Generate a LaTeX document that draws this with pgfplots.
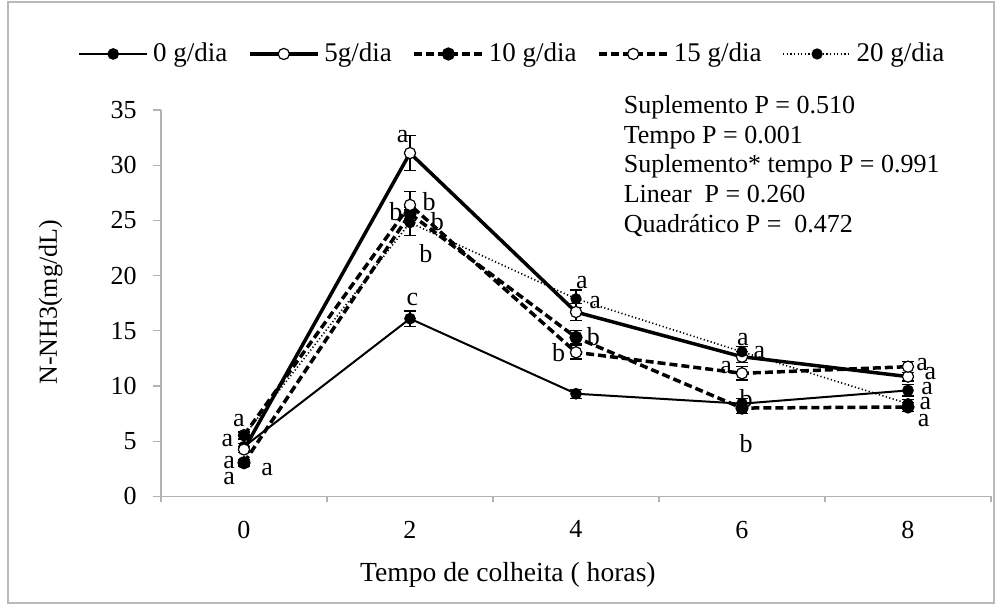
\documentclass[border=0pt]{standalone}
\usepackage{fontspec}
\setmainfont{Liberation Serif}
\usepackage{pgfplots}
\pgfplotsset{compat=1.18}
\begin{document}
\begin{tikzpicture}
\path[use as bounding box] (0pt,0pt) rectangle (499pt,303pt);
\draw[gray!55, line width=0.6pt] (4pt,1.5pt) rectangle (497pt,302pt);
\begin{axis}[
  at={(80.5pt,54.8pt)}, anchor=south west,
  scale only axis, width=415pt, height=193.2pt,
  xmin=-1, xmax=9, ymin=0, ymax=35,
  axis x line=bottom, axis y line=left,
  axis line style={-, draw=gray!60, line width=0.6pt},
  xtick={0,2,4,6,8}, minor xtick={-1,1,3,5,7,9},
  ytick={0,5,...,35},
  tick align=outside,
  major tick length=4pt, minor tick length=3pt,
  tick style={draw=gray!60, line width=0.6pt},
  every major x tick/.style={draw=none},
  /pgf/number format/assume math mode=true,
  ticklabel style={font=\fontsize{13}{15}\selectfont, inner sep=0pt},
  yticklabel style={anchor=east, xshift=-8pt},
  xticklabel style={anchor=north, yshift=-8pt},
  xlabel={Tempo de colheita ( horas)},
  xlabel style={at={(axis description cs:0.418,-0.2215)}, anchor=base, font=\fontsize{13.8}{16}\selectfont},
  ylabel={N-NH3(mg/dL)},
  ylabel style={at={(axis description cs:-0.1253,0.502)}, anchor=base, font=\fontsize{13}{15}\selectfont},
  legend columns=5,
  legend style={at={(axis description cs:0.425,1.145)}, anchor=center, draw=none, fill=none,
    font=\fontsize{13.5}{16}\selectfont, nodes={inner sep=2.4pt},
    /tikz/every even column/.append style={column sep=8pt}},
  legend image code/.code={\draw[mark repeat=2, mark phase=2, #1] plot coordinates {(0pt,0pt) (17pt,0pt) (34pt,0pt)};},
  error bars/y dir=both, error bars/y explicit,
  error bars/error bar style={black, solid, line width=0.6pt},
  error bars/error mark options={rotate=90, mark size=3pt, black, solid, line width=0.6pt},
]
\addplot[black, solid, line width=1pt, mark=*, mark size=2.4pt, mark options={solid}]
  coordinates {(0,4.5) +- (0,0.3) (2,16.1) +- (0,0.7) (4,9.3) +- (0,0.4) (6,8.4) +- (0,0.5) (8,9.6) +- (0,0.5)};
\addplot[black, solid, line width=1.75pt, mark=*, mark size=2.8pt, mark options={solid, fill=white, line width=0.6pt}]
  coordinates {(0,4.25) +- (0,0.3) (2,31.1) +- (0,1.6) (4,16.7) +- (0,0.8) (6,12.65) +- (0,0.5) (8,10.85) +- (0,0.4)};
\addplot[black, line width=1.75pt, dash pattern=on 4pt off 2pt, mark=*, mark size=2.4pt, mark options={solid}]
  coordinates {(0,3.05) +- (0,0.3) (2,25.6) +- (0,0.6) (4,14.4) +- (0,0.6) (6,8.0) +- (0,0.5) (8,8.1) +- (0,0.4)};
\addplot[black, line width=1.75pt, dash pattern=on 4pt off 2pt, mark=*, mark size=2.8pt, mark options={solid, fill=white, line width=0.6pt}]
  coordinates {(0,5.55) +- (0,0.3) (2,26.4) +- (0,1.2) (4,13.05) +- (0,0.6) (6,11.15) +- (0,0.6) (8,11.75) +- (0,0.5)};
\addplot[black, line width=0.8pt, dash pattern=on 0.6pt off 1.2pt, mark=*, mark size=2.4pt, mark options={solid}]
  coordinates {(0,5.5) +- (0,0.3) (2,24.8) +- (0,1.2) (4,17.9) +- (0,0.8) (6,13.1) +- (0,0.5) (8,8.4) +- (0,0.4)};
\legend{0 g/dia, 5g/dia, 10 g/dia, 15 g/dia, 20 g/dia}
% letras de significancia
\begin{scope}[every node/.style={font=\fontsize{13}{15}\selectfont, inner sep=0pt}]
\node at (axis cs:-0.06,6.9) {a};
\node at (axis cs:-0.2,5.1) {a};
\node at (axis cs:-0.18,3.1) {a};
\node at (axis cs:-0.18,1.6) {a};
\node at (axis cs:0.28,2.4) {a};
\node at (axis cs:1.91,32.6) {a};
\node at (axis cs:2.23,26.7) {b};
\node at (axis cs:1.83,25.8) {b};
\node at (axis cs:2.33,24.9) {b};
\node at (axis cs:2.19,22.0) {b};
\node at (axis cs:2.03,17.8) {c};
\node at (axis cs:4.07,19.4) {a};
\node at (axis cs:4.23,17.6) {a};
\node at (axis cs:4.21,14.5) {b};
\node at (axis cs:3.79,13.0) {b};
\node at (axis cs:6.01,14.2) {a};
\node at (axis cs:6.21,13.0) {a};
\node at (axis cs:5.81,11.7) {a};
\node at (axis cs:6.05,8.9) {b};
\node at (axis cs:6.05,4.8) {b};
\node at (axis cs:8.17,11.9) {a};
\node at (axis cs:8.27,11.15) {a};
\node at (axis cs:8.23,9.8) {a};
\node at (axis cs:8.21,8.4) {a};
\node at (axis cs:8.19,6.9) {a};
\end{scope}
\end{axis}
\begin{scope}[every node/.style={anchor=base west, inner sep=0pt, font=\fontsize{13}{15}\selectfont}]
\node at (311.7pt,246pt) {Suplemento P = 0.510};
\node at (311.7pt,231pt) {Tempo P = 0.001};
\node at (311.7pt,216.5pt) {Suplemento* tempo P = 0.991};
\node at (311.7pt,201.5pt) {Linear\ \ P = 0.260};
\node at (311.7pt,186.5pt) {Quadrático P =\ \ 0.472};
\end{scope}
\end{tikzpicture}
\end{document}
